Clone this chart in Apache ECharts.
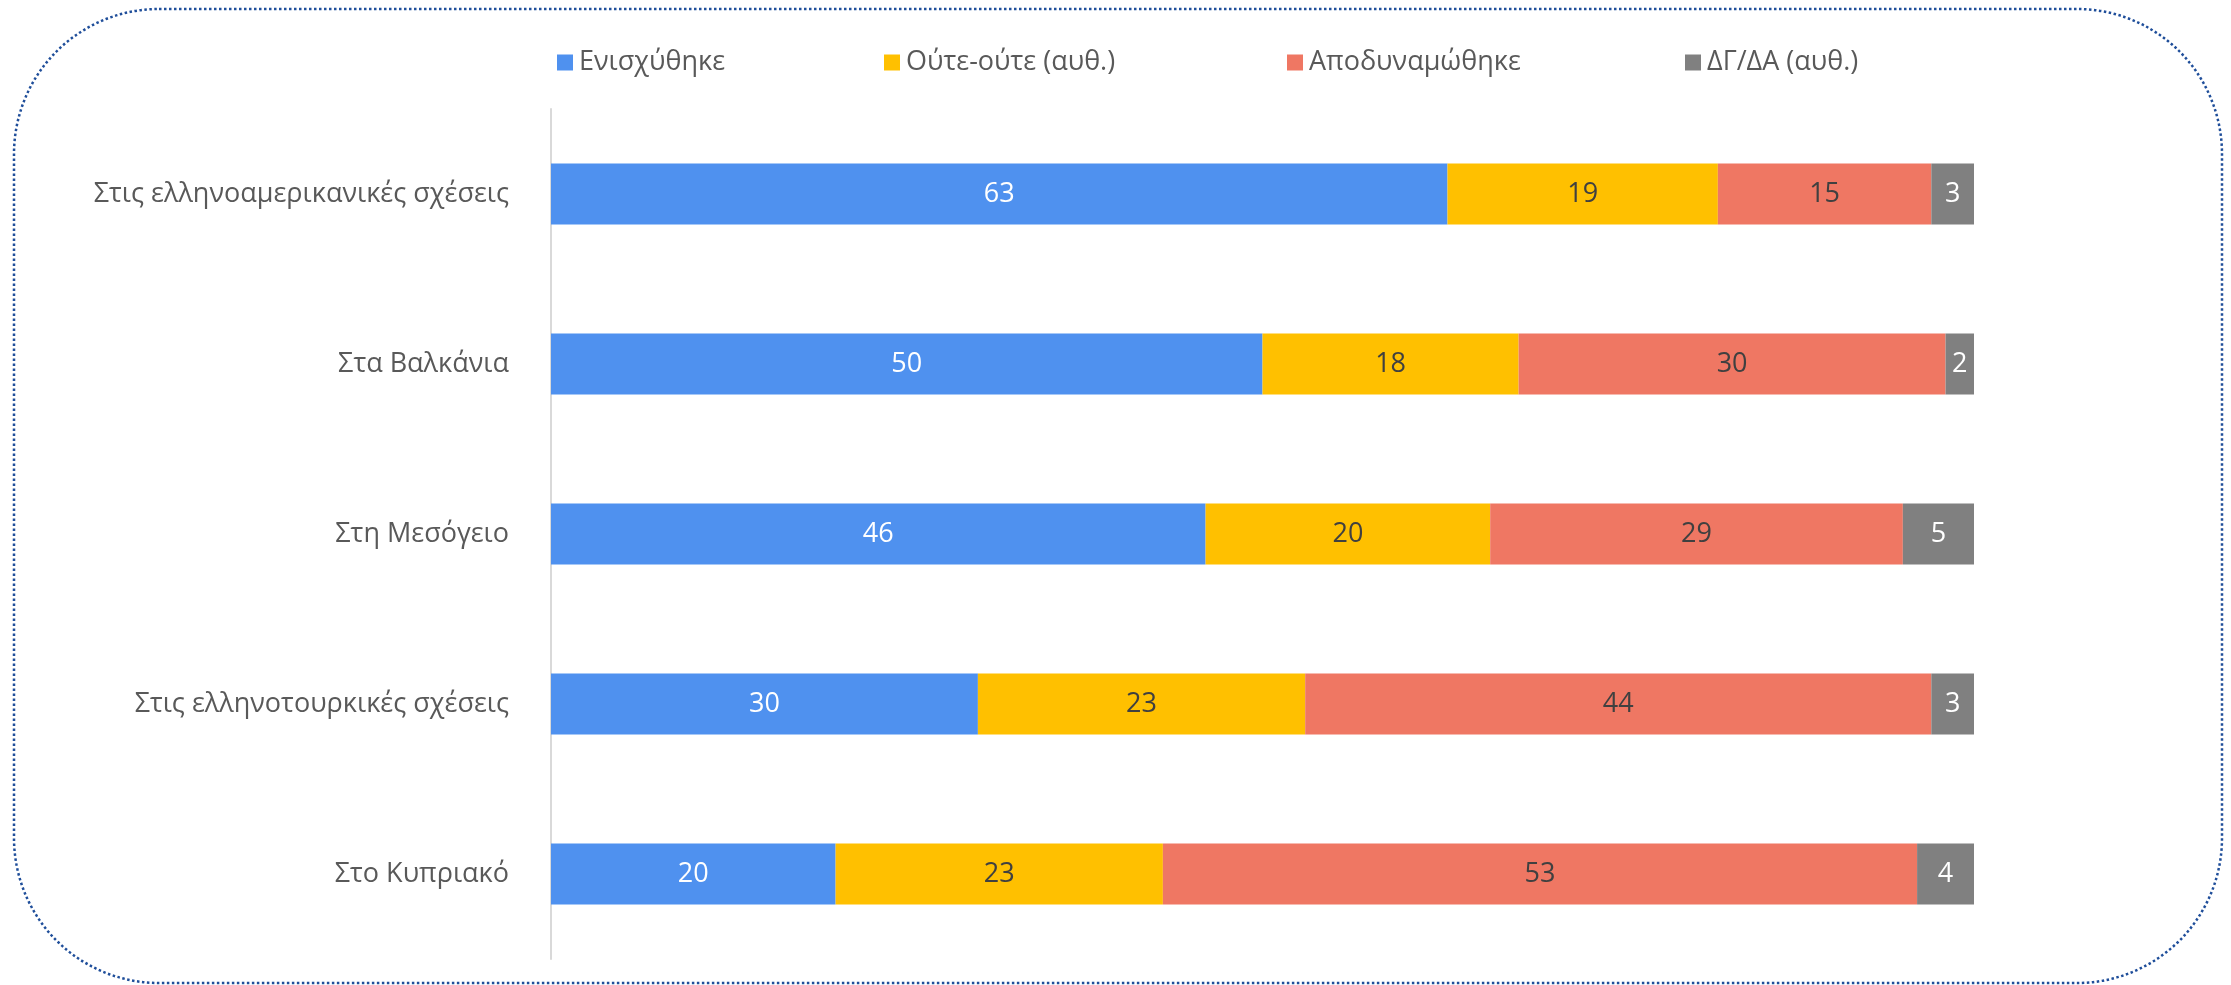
<!DOCTYPE html>
<html>
<head>
<meta charset="utf-8">
<script src="https://cdn.jsdelivr.net/npm/echarts@6/dist/echarts.min.js"></script>
<style>
  html, body { margin: 0; padding: 0; background: #fff; }
  #chart { width: 2231px; height: 985px; }
</style>
</head>
<body>
<div id="chart"></div>
<script>
// categories, top to bottom
const categories = [
  'Στις ελληνοαμερικανικές σχέσεις',
  'Στα Βαλκάνια',
  'Στη Μεσόγειο',
  'Στις ελληνοτουρκικές σχέσεις',
  'Στο Κυπριακό'
]
const seriesNames = ['Ενισχύθηκε', 'Ούτε-ούτε (αυθ.)', 'Αποδυναμώθηκε', 'ΔΓ/ΔΑ (αυθ.)']
const strengthened = [63, 50, 46, 30, 20]
const neither = [19, 18, 20, 23, 23]
const weakened = [15, 30, 29, 44, 53]
const dontKnow = [3, 2, 5, 3, 4]

const colors = ['#4f91ef', '#ffc000', '#ef7763', '#808080']
const labelColors = ['#ffffff', '#404040', '#404040', '#ffffff']
const legendLeft = [552, 879, 1282, 1680]
const fontFam = '"Open Sans", "Noto Sans", sans-serif'

const values = [strengthened, neither, weakened, dontKnow]

const chart = echarts.init(document.getElementById('chart'))

const options = {
  animation: false,
  textStyle: { fontFamily: fontFam },
  legend: seriesNames.map((n, i) => ({
    data: [n],
    left: legendLeft[i],
    top: 44,
    itemWidth: 16,
    itemHeight: 16,
    itemGap: 0,
    icon: 'rect',
    textStyle: { fontSize: 27, color: '#595959', fontFamily: fontFam, padding: [0, 0, 0, 1] }
  })),
  grid: {
    left: 551,
    right: 257,
    top: 109,
    bottom: 26,
    containLabel: false
  },
  xAxis: {
    type: 'value',
    min: 0,
    max: 100,
    show: false
  },
  yAxis: {
    type: 'category',
    data: categories,
    inverse: true,
    axisTick: { show: false },
    axisLine: { show: true, lineStyle: { color: '#d9d9d9', width: 2 } },
    axisLabel: { fontSize: 27, color: '#595959', margin: 42, fontFamily: fontFam }
  },
  graphic: [{
    type: 'rect',
    silent: true,
    shape: { x: 14, y: 9, width: 2208, height: 974, r: 145 },
    style: { fill: 'none', stroke: '#1f4e9a', lineWidth: 2.5, lineDash: [2.5, 2.5] }
  }],
  series: []
}

values.forEach((v, i) => {
  options.series.push({
    name: seriesNames[i],
    type: 'bar',
    stack: 'total',
    barWidth: 61,
    data: v,
    itemStyle: { color: colors[i] },
    label: {
      show: true,
      position: 'inside',
      color: labelColors[i],
      fontSize: 27,
      fontFamily: fontFam
    }
  })
})

chart.setOption(options)
</script>
</body>
</html>
